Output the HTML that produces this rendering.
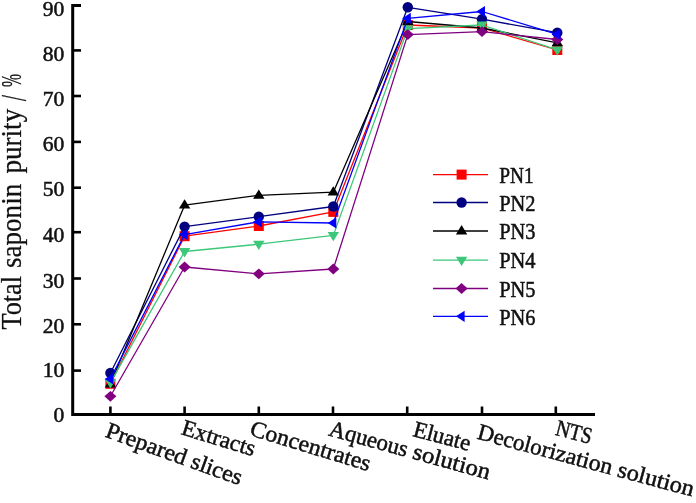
<!DOCTYPE html>
<html lang="en"><head><meta charset="utf-8"><title>Total saponin purity</title>
<style>html,body{margin:0;padding:0;background:#fff;}svg{display:block;}text{font-family:"Liberation Serif", "DejaVu Serif", serif;fill:#111;stroke:#111;stroke-width:0.5px;}</style></head><body>
<svg width="696" height="503" viewBox="0 0 696 503">
<rect width="696" height="503" fill="#ffffff"/>
<g><polyline points="110.4,383.8 184.6,236.2 258.8,226.0 333.3,211.9 407.8,25.0 482.0,28.0 557.3,50.0" fill="none" stroke="#ff0000" stroke-width="1.3" stroke-linejoin="round"/>
<rect x="105.4" y="378.8" width="10" height="10" fill="#ff0000"/>
<rect x="179.6" y="231.2" width="10" height="10" fill="#ff0000"/>
<rect x="253.8" y="221.0" width="10" height="10" fill="#ff0000"/>
<rect x="328.3" y="206.9" width="10" height="10" fill="#ff0000"/>
<rect x="402.8" y="20.0" width="10" height="10" fill="#ff0000"/>
<rect x="477.0" y="23.0" width="10" height="10" fill="#ff0000"/>
<rect x="552.3" y="45.0" width="10" height="10" fill="#ff0000"/>
</g>
<g><polyline points="110.4,373.0 184.6,226.6 258.8,216.7 333.3,206.5 407.8,7.3 482.0,19.2 557.3,32.7" fill="none" stroke="#000080" stroke-width="1.3" stroke-linejoin="round"/>
<circle cx="110.4" cy="373.0" r="5.2" fill="#000080"/>
<circle cx="184.6" cy="226.6" r="5.2" fill="#000080"/>
<circle cx="258.8" cy="216.7" r="5.2" fill="#000080"/>
<circle cx="333.3" cy="206.5" r="5.2" fill="#000080"/>
<circle cx="407.8" cy="7.3" r="5.2" fill="#000080"/>
<circle cx="482.0" cy="19.2" r="5.2" fill="#000080"/>
<circle cx="557.3" cy="32.7" r="5.2" fill="#000080"/>
</g>
<g><polyline points="110.4,384.0 184.6,205.2 258.8,195.3 333.3,192.2 407.8,21.5 482.0,28.0 557.3,42.8" fill="none" stroke="#000000" stroke-width="1.3" stroke-linejoin="round"/>
<polygon points="110.4,378.1 104.7,387.4 116.1,387.4" fill="#000000"/>
<polygon points="184.6,199.3 178.9,208.6 190.3,208.6" fill="#000000"/>
<polygon points="258.8,189.4 253.1,198.7 264.5,198.7" fill="#000000"/>
<polygon points="333.3,186.3 327.6,195.6 339.0,195.6" fill="#000000"/>
<polygon points="407.8,15.6 402.1,24.9 413.5,24.9" fill="#000000"/>
<polygon points="482.0,22.1 476.3,31.4 487.7,31.4" fill="#000000"/>
<polygon points="557.3,36.9 551.6,46.2 563.0,46.2" fill="#000000"/>
</g>
<g><polyline points="110.4,382.6 184.6,251.5 258.8,244.2 333.3,235.4 407.8,28.6 482.0,25.0 557.3,49.8" fill="none" stroke="#3cc878" stroke-width="1.3" stroke-linejoin="round"/>
<polygon points="110.4,388.5 104.7,379.2 116.1,379.2" fill="#3cc878"/>
<polygon points="184.6,257.4 178.9,248.1 190.3,248.1" fill="#3cc878"/>
<polygon points="258.8,250.1 253.1,240.8 264.5,240.8" fill="#3cc878"/>
<polygon points="333.3,241.3 327.6,232.0 339.0,232.0" fill="#3cc878"/>
<polygon points="407.8,34.5 402.1,25.2 413.5,25.2" fill="#3cc878"/>
<polygon points="482.0,30.9 476.3,21.6 487.7,21.6" fill="#3cc878"/>
<polygon points="557.3,55.7 551.6,46.4 563.0,46.4" fill="#3cc878"/>
</g>
<g><polyline points="110.4,396.3 184.6,267.0 258.8,273.8 333.3,269.0 407.8,34.6 482.0,31.6 557.3,39.5" fill="none" stroke="#800080" stroke-width="1.3" stroke-linejoin="round"/>
<polygon points="110.4,390.9 116.4,396.3 110.4,401.7 104.4,396.3" fill="#800080"/>
<polygon points="184.6,261.6 190.6,267.0 184.6,272.4 178.6,267.0" fill="#800080"/>
<polygon points="258.8,268.4 264.8,273.8 258.8,279.2 252.8,273.8" fill="#800080"/>
<polygon points="333.3,263.6 339.3,269.0 333.3,274.4 327.3,269.0" fill="#800080"/>
<polygon points="407.8,29.2 413.8,34.6 407.8,40.0 401.8,34.6" fill="#800080"/>
<polygon points="482.0,26.2 488.0,31.6 482.0,37.0 476.0,31.6" fill="#800080"/>
<polygon points="557.3,34.1 563.3,39.5 557.3,44.9 551.3,39.5" fill="#800080"/>
</g>
<g><polyline points="110.4,378.9 184.6,234.6 258.8,221.8 333.3,223.0 407.8,18.4 482.0,11.5 557.3,34.4" fill="none" stroke="#0000ff" stroke-width="1.3" stroke-linejoin="round"/>
<polygon points="104.7,378.9 113.4,373.3 113.4,384.5" fill="#0000ff"/>
<polygon points="178.9,234.6 187.6,229.0 187.6,240.2" fill="#0000ff"/>
<polygon points="253.1,221.8 261.8,216.2 261.8,227.4" fill="#0000ff"/>
<polygon points="327.6,223.0 336.3,217.4 336.3,228.6" fill="#0000ff"/>
<polygon points="402.1,18.4 410.8,12.8 410.8,24.0" fill="#0000ff"/>
<polygon points="476.3,11.5 485.0,5.9 485.0,17.1" fill="#0000ff"/>
<polygon points="551.6,34.4 560.3,28.8 560.3,40.0" fill="#0000ff"/>
</g>
<g stroke="#000" stroke-width="3" fill="none" stroke-linecap="butt">
<path d="M81,5.5 H72.7 V414.4 H595"/>
</g>
<g stroke="#000" stroke-width="2.6" fill="none">
<path d="M73,50.4 H81"/>
<path d="M73,96.0 H81"/>
<path d="M73,141.9 H81"/>
<path d="M73,187.7 H81"/>
<path d="M73,232.2 H81"/>
<path d="M73,278.5 H81"/>
<path d="M73,324.3 H81"/>
<path d="M73,370.6 H81"/>
<path d="M110.4,414 V406.5"/>
<path d="M184.6,414 V406.5"/>
<path d="M258.8,414 V406.5"/>
<path d="M333.0,414 V406.5"/>
<path d="M407.2,414 V406.5"/>
<path d="M482.0,414 V406.5"/>
<path d="M555.8,414 V406.5"/>
</g>
<g font-size="20.5" text-anchor="end" style="stroke-width:0.3px">
<text x="64.4" y="15.5" textLength="21.6" lengthAdjust="spacingAndGlyphs">90</text>
<text x="64.4" y="61.1" textLength="21.6" lengthAdjust="spacingAndGlyphs">80</text>
<text x="64.4" y="105.6" textLength="21.6" lengthAdjust="spacingAndGlyphs">70</text>
<text x="64.4" y="150.8" textLength="21.6" lengthAdjust="spacingAndGlyphs">60</text>
<text x="64.4" y="196.3" textLength="21.6" lengthAdjust="spacingAndGlyphs">50</text>
<text x="64.4" y="242.1" textLength="21.6" lengthAdjust="spacingAndGlyphs">40</text>
<text x="64.4" y="287.5" textLength="21.6" lengthAdjust="spacingAndGlyphs">30</text>
<text x="64.4" y="332.8" textLength="21.6" lengthAdjust="spacingAndGlyphs">20</text>
<text x="64.4" y="377.1" textLength="21.6" lengthAdjust="spacingAndGlyphs">10</text>
<text x="64.4" y="422.4" textLength="10.8" lengthAdjust="spacingAndGlyphs">0</text>
</g>
<text font-size="28.5" style="stroke-width:0.25px" transform="translate(21.2,329.6) rotate(-90)"><tspan x="0.0" textLength="53.7" lengthAdjust="spacingAndGlyphs">Total</tspan> <tspan x="61.6" textLength="84.2" lengthAdjust="spacingAndGlyphs">saponin</tspan> <tspan x="156.0" textLength="64.8" lengthAdjust="spacingAndGlyphs">purity</tspan> <tspan x="228.4" dy="4.8" font-size="36" textLength="6.2" lengthAdjust="spacingAndGlyphs">/</tspan> <tspan x="242.7" dy="-4.8" textLength="13.1" lengthAdjust="spacingAndGlyphs">%</tspan></text>
<text font-size="23.0" transform="translate(104.2,436.6) rotate(19.80)" textLength="143.5" lengthAdjust="spacingAndGlyphs">Prepared slices</text>
<text font-size="23.0" transform="translate(180.2,434.0) rotate(16.96)" textLength="76.1" lengthAdjust="spacingAndGlyphs">Extracts</text>
<text font-size="23.0" transform="translate(248.8,435.0) rotate(16.81)" textLength="124.8" lengthAdjust="spacingAndGlyphs">Concentrates</text>
<text font-size="23.0" transform="translate(327.8,435.2) rotate(15.48)"><tspan x="0" textLength="81.0" lengthAdjust="spacingAndGlyphs">Aqueous</tspan> <tspan x="86.8" textLength="79.5" lengthAdjust="spacingAndGlyphs">solution</tspan></text>
<text font-size="23.0" transform="translate(411.9,435.9) rotate(14.75)" textLength="58.5" lengthAdjust="spacingAndGlyphs">Eluate</text>
<text font-size="23.0" transform="translate(476.3,438.6) rotate(15.03)"><tspan x="0" textLength="66.0" lengthAdjust="spacingAndGlyphs">Decolo</tspan><tspan x="66.2" textLength="72.8" lengthAdjust="spacingAndGlyphs">rization</tspan> <tspan x="144.9" textLength="78.4" lengthAdjust="spacingAndGlyphs">solution</tspan></text>
<text font-size="23.0" transform="translate(554.4,434.7) rotate(14.49)" textLength="36.8" lengthAdjust="spacingAndGlyphs">NTS</text>
<g><path d="M433,174.6 H488" stroke="#ff0000" stroke-width="1.3" fill="none"/>
<rect x="456.6" y="169.6" width="10" height="10" fill="#ff0000"/>
<text font-size="22.5" x="499.2" y="182.8" textLength="34.4" lengthAdjust="spacingAndGlyphs">PN1</text></g>
<g><path d="M433,202.5 H488" stroke="#000080" stroke-width="1.3" fill="none"/>
<circle cx="461.6" cy="202.5" r="5.2" fill="#000080"/>
<text font-size="22.5" x="499.2" y="210.7" textLength="36.3" lengthAdjust="spacingAndGlyphs">PN2</text></g>
<g><path d="M433,231.0 H488" stroke="#000000" stroke-width="1.3" fill="none"/>
<polygon points="461.6,225.1 455.9,234.4 467.3,234.4" fill="#000000"/>
<text font-size="22.5" x="499.2" y="239.2" textLength="36.3" lengthAdjust="spacingAndGlyphs">PN3</text></g>
<g><path d="M433,260.2 H488" stroke="#3cc878" stroke-width="1.3" fill="none"/>
<polygon points="461.6,266.1 455.9,256.8 467.3,256.8" fill="#3cc878"/>
<text font-size="22.5" x="499.2" y="268.4" textLength="36.3" lengthAdjust="spacingAndGlyphs">PN4</text></g>
<g><path d="M433,288.5 H488" stroke="#800080" stroke-width="1.3" fill="none"/>
<polygon points="461.6,283.1 467.6,288.5 461.6,293.9 455.6,288.5" fill="#800080"/>
<text font-size="22.5" x="499.2" y="296.7" textLength="36.3" lengthAdjust="spacingAndGlyphs">PN5</text></g>
<g><path d="M433,316.3 H488" stroke="#0000ff" stroke-width="1.3" fill="none"/>
<polygon points="455.9,316.3 464.6,310.7 464.6,321.9" fill="#0000ff"/>
<text font-size="22.5" x="499.2" y="324.5" textLength="36.3" lengthAdjust="spacingAndGlyphs">PN6</text></g>
</svg></body></html>
